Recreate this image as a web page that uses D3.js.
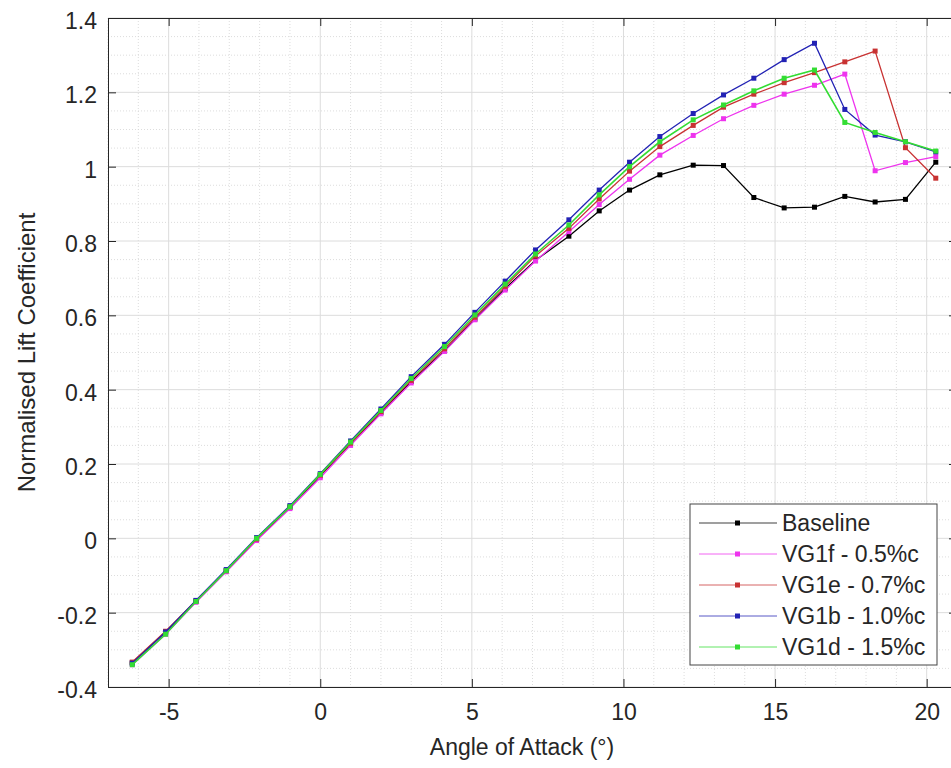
<!DOCTYPE html>
<html>
<head>
<meta charset="utf-8">
<script src="https://cdn.jsdelivr.net/npm/d3@7"></script>
<style>
  body { margin: 0; background: #fff; }
  svg { font-family: "Liberation Sans", Arial, sans-serif; }
</style>
</head>
<body>
<div id="chart"></div>
<script>
const angles = [-6.2, -5.1, -4.1, -3.1, -2.1, -1.0, 0.0, 1.0, 2.0, 3.0, 4.1, 5.1, 6.1, 7.1, 8.2, 9.2, 10.2, 11.2, 12.3, 13.3, 14.3, 15.3, 16.3, 17.3, 18.3, 19.3, 20.3];

const baseline = [-0.335, -0.252, -0.170, -0.087, -0.003, 0.083, 0.168, 0.255, 0.338, 0.422, 0.505, 0.590, 0.672, 0.748, 0.813, 0.881, 0.937, 0.978, 1.004, 1.003, 0.917, 0.889, 0.891, 0.920, 0.905, 0.912, 1.012];
const vg1f = [-0.340, -0.258, -0.172, -0.090, -0.006, 0.080, 0.163, 0.250, 0.335, 0.418, 0.503, 0.588, 0.668, 0.746, 0.825, 0.898, 0.966, 1.031, 1.084, 1.129, 1.165, 1.195, 1.219, 1.249, 0.989, 1.011, 1.027];
const vg1e = [-0.333, -0.250, -0.168, -0.087, -0.002, 0.085, 0.170, 0.256, 0.341, 0.425, 0.510, 0.595, 0.678, 0.760, 0.834, 0.913, 0.988, 1.054, 1.111, 1.160, 1.195, 1.226, 1.253, 1.282, 1.311, 1.051, 0.969];
const vg1b = [-0.336, -0.252, -0.167, -0.084, 0.002, 0.088, 0.174, 0.262, 0.348, 0.435, 0.522, 0.608, 0.692, 0.776, 0.857, 0.937, 1.012, 1.081, 1.143, 1.193, 1.238, 1.288, 1.332, 1.154, 1.085, 1.067, 1.040];
const vg1d = [-0.340, -0.258, -0.170, -0.087, 0.000, 0.085, 0.172, 0.259, 0.344, 0.430, 0.516, 0.601, 0.684, 0.765, 0.843, 0.924, 1.000, 1.067, 1.126, 1.166, 1.204, 1.238, 1.260, 1.119, 1.092, 1.067, 1.042];

const seriesNames = ["Baseline", "VG1f - 0.5%c", "VG1e - 0.7%c", "VG1b - 1.0%c", "VG1d - 1.5%c"];
const seriesValues = [baseline, vg1f, vg1e, vg1b, vg1d];
const seriesColors = ["#000000", "#ee33ee", "#c83232", "#2222b4", "#33dd33"];

const xTicks = [-5, 0, 5, 10, 15, 20];
const yTicks = [-0.4, -0.2, 0, 0.2, 0.4, 0.6, 0.8, 1, 1.2, 1.4];

const margin = { top: 18, right: -6, bottom: 81, left: 108 };
const W = 951, H = 768;
const width = W - margin.left - margin.right;
const height = H - margin.top - margin.bottom;

const x = d3.scaleLinear().domain([-7, 21]).range([0, width]);
const y = d3.scaleLinear().domain([-0.4, 1.4]).range([height, 0]);

const svg = d3.select("#chart").append("svg")
    .attr("width", W)
    .attr("height", H);

const g = svg.append("g")
    .attr("transform", `translate(${margin.left},${margin.top})`);

// minor grid (dotted)
const xMinor = d3.range(-7, 22, 1).filter(v => v % 5 !== 0);
const yMinor = d3.range(-0.4, 1.4001, 0.05).filter(v => Math.abs(v * 5 - Math.round(v * 5)) > 1e-6);

g.append("g").selectAll("line").data(xMinor).join("line")
    .attr("x1", d => x(d)).attr("x2", d => x(d))
    .attr("y1", 0).attr("y2", height)
    .attr("stroke", "#d4d4d4").attr("stroke-dasharray", "1,2").attr("stroke-width", 0.8);
g.append("g").selectAll("line").data(yMinor).join("line")
    .attr("y1", d => y(d)).attr("y2", d => y(d))
    .attr("x1", 0).attr("x2", width)
    .attr("stroke", "#d4d4d4").attr("stroke-dasharray", "1,2").attr("stroke-width", 0.8);

// major grid
g.append("g").selectAll("line").data(xTicks).join("line")
    .attr("x1", d => x(d)).attr("x2", d => x(d))
    .attr("y1", 0).attr("y2", height)
    .attr("stroke", "#dcdcdc").attr("stroke-width", 1);
g.append("g").selectAll("line").data(yTicks).join("line")
    .attr("y1", d => y(d)).attr("y2", d => y(d))
    .attr("x1", 0).attr("x2", width)
    .attr("stroke", "#dcdcdc").attr("stroke-width", 1);

// axes, ticks inside
const axisColor = "#262626";
const fmt = d => String(+d.toFixed(1));
const xAxis = g.append("g")
    .attr("transform", `translate(0,${height})`)
    .call(d3.axisBottom(x).tickValues(xTicks).tickSizeInner(-8).tickSizeOuter(0).tickFormat(fmt));
const yAxis = g.append("g")
    .call(d3.axisLeft(y).tickValues(yTicks).tickSizeInner(-8).tickSizeOuter(0).tickPadding(11).tickFormat(fmt));
const xTop = g.append("g")
    .call(d3.axisTop(x).tickValues(xTicks).tickSizeInner(-8).tickSizeOuter(0).tickFormat(""));
const yRight = g.append("g")
    .attr("transform", `translate(${width},0)`)
    .call(d3.axisRight(y).tickValues(yTicks).tickSizeInner(-8).tickSizeOuter(0).tickFormat(""));

[xAxis, yAxis, xTop, yRight].forEach(a => {
  a.select(".domain").attr("stroke", axisColor);
  a.selectAll(".tick line").attr("stroke", axisColor);
  a.selectAll(".tick text").attr("fill", "#262626").style("font-size", "23px");
});
xAxis.selectAll(".tick text").attr("y", 33).attr("dy", 0);
yAxis.selectAll(".tick text").attr("dy", "0.45em");

// series
const line = d3.line().x(d => x(d[0])).y(d => y(d[1]));

seriesValues.forEach((vals, i) => {
  const pts = angles.map((a, j) => [a, vals[j]]);
  g.append("path")
      .datum(pts)
      .attr("fill", "none")
      .attr("stroke", seriesColors[i])
      .attr("stroke-width", i === 4 ? 1.6 : 1.3)
      .attr("d", line);
  g.append("g").selectAll("rect").data(pts).join("rect")
      .attr("x", d => x(d[0]) - 2.5)
      .attr("y", d => y(d[1]) - 2.5)
      .attr("width", 5).attr("height", 5)
      .attr("fill", seriesColors[i]);
});

// legend
const legend = svg.append("g").attr("transform", "translate(690,504)");
legend.append("rect")
    .attr("width", 247).attr("height", 161)
    .attr("fill", "#fff").attr("stroke", "#444").attr("stroke-width", 1);

seriesNames.forEach((name, i) => {
  const row = legend.append("g").attr("transform", `translate(0,${19 + i * 31})`);
  row.append("line")
      .attr("x1", 9).attr("x2", 87)
      .attr("stroke", seriesColors[i]).attr("stroke-width", 1).attr("opacity", 0.75);
  row.append("rect")
      .attr("x", 45).attr("y", -2.5).attr("width", 5).attr("height", 5)
      .attr("fill", seriesColors[i]);
  row.append("text")
      .attr("x", 92).attr("dy", "0.36em")
      .attr("fill", "#262626")
      .style("font-size", "23px")
      .text(name);
});

// axis labels
svg.append("text")
    .attr("x", 522)
    .attr("y", 755)
    .attr("text-anchor", "middle")
    .attr("fill", "#262626")
    .style("font-size", "23px")
    .text("Angle of Attack (°)");

svg.append("text")
    .attr("transform", `translate(35,${margin.top + y(0.5)}) rotate(-90)`)
    .attr("text-anchor", "middle")
    .attr("fill", "#262626")
    .style("font-size", "24px")
    .text("Normalised Lift Coefficient");
</script>
</body>
</html>
